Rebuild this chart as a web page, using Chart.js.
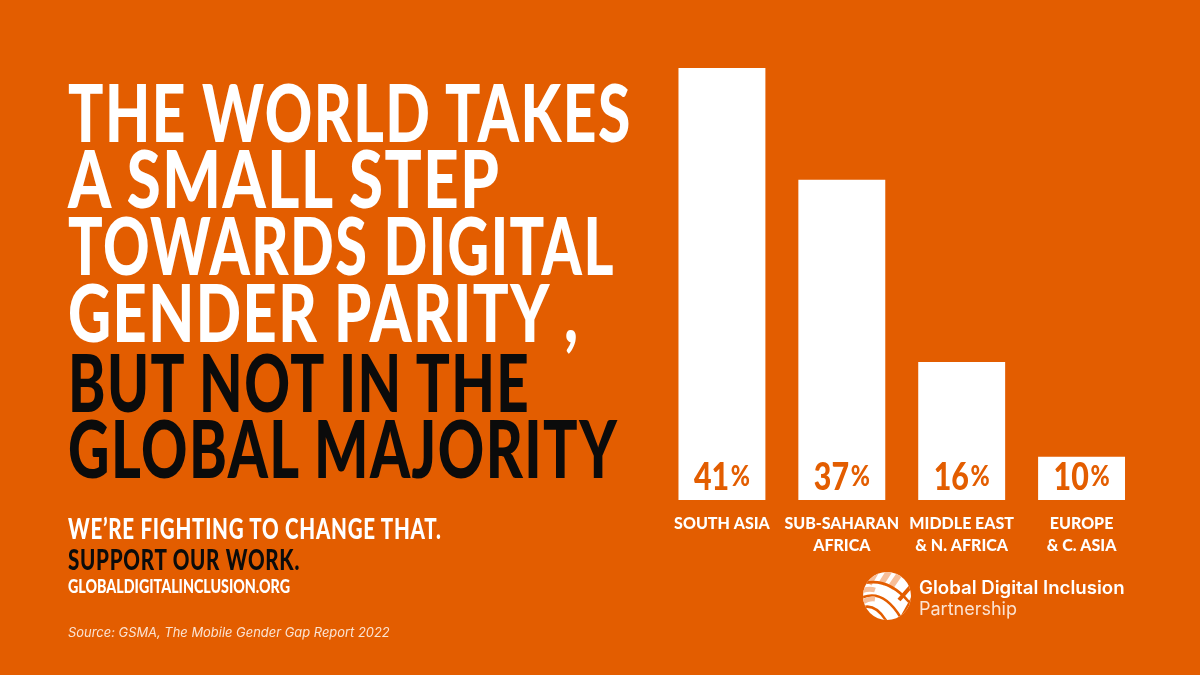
<!DOCTYPE html>
<html><head><meta charset="utf-8">
<script src="https://cdn.jsdelivr.net/npm/chart.js@4/dist/chart.umd.min.js"></script>
<style>
html,body{margin:0;padding:0;background:#E35D00;width:1200px;height:675px;overflow:hidden}
#c{position:absolute;left:0;top:0}
.t{position:absolute;white-space:nowrap;font-family:Lato,sans-serif;font-weight:900;transform-origin:0 0;color:#fff}
.k{color:#0b0b0b}
.h{font-size:80px;line-height:80px;letter-spacing:2px}
</style></head><body>
<canvas id="c" width="1200" height="675"></canvas>
<div class="t h" data-w="564" style="left:68px;top:71px">THE WORLD TAKES</div>
<div class="t h" data-w="432" style="left:68px;top:137px">A SMALL STEP</div>
<div class="t h" data-w="547" style="left:68px;top:204px">TOWARDS DIGITAL</div>
<div class="t h" data-w="512" style="left:68px;top:271px">GENDER PARITY ,</div>
<div class="t h k" data-w="462" style="left:68px;top:341px">BUT NOT IN THE</div>
<div class="t h k" data-w="550" style="left:68px;top:407px">GLOBAL MAJORITY</div>
<div class="t" data-w="374" style="left:68px;top:513px;font-size:28px;line-height:30px;letter-spacing:1px">WE’RE FIGHTING TO CHANGE THAT.</div>
<div class="t k" data-w="232" style="left:68px;top:544px;font-size:28px;line-height:30px;letter-spacing:1px">SUPPORT OUR WORK.</div>
<div class="t" data-w="222" style="left:68px;top:574px;font-size:19px;line-height:24px">GLOBALDIGITALINCLUSION.ORG</div>
<div class="t" data-w="322" style="left:68px;top:624px;font-family:Inter,sans-serif;font-weight:400;font-style:italic;font-size:13px;line-height:16px;color:#FBE3D2">Source: GSMA, The Mobile Gender Gap Report 2022</div>
<svg style="position:absolute;left:863px;top:572px" width="48" height="48" viewBox="0 0 48 48">
<defs><clipPath id="g"><circle cx="24" cy="24" r="24"/></clipPath></defs>
<g clip-path="url(#g)"><rect width="48" height="48" fill="#fff"/>
<path d="M14 -2 L6 12 M27 -2 L18 12 M38 0 L27 16" stroke="#F7BE98" stroke-width="6" fill="none"/>
<path d="M-2 12 Q24 4 46 30" stroke="#E35D00" stroke-width="2.5" fill="none"/>
<path d="M-2 26 Q20 16 38 46" stroke="#E35D00" stroke-width="2.5" fill="none"/>
<path d="M-2 36 Q12 30 24 50" stroke="#E35D00" stroke-width="2.5" fill="none"/>
<path d="M-2 19 Q6 16 12 18 M-2 31 Q6 26 12 27" stroke="#F7BE98" stroke-width="5" fill="none"/>
<path d="M50 12 L36 28 M50 26 L40 44" stroke="#E35D00" stroke-width="4" fill="none"/>
</g></svg>
<div class="t" data-w="206" style="left:919px;top:578px;font-family:Inter,sans-serif;font-weight:600;font-size:18px;line-height:20px">Global Digital Inclusion</div>
<div class="t" data-w="98" style="left:919px;top:599px;font-family:Inter,sans-serif;font-weight:400;font-size:18px;line-height:20px;color:#FBE3D2">Partnership</div>
<script>
document.querySelectorAll("[data-w]").forEach(e=>{e.style.transform="scaleX("+(+e.dataset.w/e.offsetWidth)+")"});
const categories=[["SOUTH ASIA"],["SUB-SAHARAN","AFRICA"],["MIDDLE EAST","& N. AFRICA"],["EUROPE","& C. ASIA"]];
const printedShares=[41,37,16,10];
const barLengths=[41,30.4,13.1,4.1];
const ORANGE="#E35D00";
const FONT='Lato,sans-serif';
const innerLabels={id:"innerLabels",afterDatasetsDraw(ch){
  const ctx=ch.ctx,bars=ch.getDatasetMeta(0).data,base=ch.scales.y.getPixelForValue(0);
  bars.forEach((b,i)=>{
    ctx.save();ctx.translate(b.x,base-10);ctx.scale(.8,1);
    ctx.fillStyle=ORANGE;ctx.textBaseline="alphabetic";
    const n=String(printedShares[i]);
    ctx.font='900 38px '+FONT;const w1=ctx.measureText(n).width;
    const f2='900 29px '+FONT;ctx.font=f2;const w2=ctx.measureText("%").width;
    const x0=-(w1+w2+2)/2;
    ctx.textAlign="left";
    ctx.font='900 38px '+FONT;ctx.fillText(n,x0,0);
    ctx.font=f2;ctx.fillText("%",x0+w1+2,-4);
    ctx.restore();
  });
}};
new Chart(document.getElementById("c"),{
  type:"bar",
  data:{labels:categories,datasets:[{data:barLengths,backgroundColor:"#fff",borderWidth:0,barPercentage:.725,categoryPercentage:1}]},
  plugins:[innerLabels],
  options:{responsive:false,animation:false,
    layout:{padding:{left:662,right:58.5,top:68,bottom:113}},
    plugins:{legend:{display:false},tooltip:{enabled:false},title:{display:false}},
    scales:{
      x:{grid:{display:false},border:{display:false},
         ticks:{color:"#fff",font:{family:FONT,weight:"900",size:16,lineHeight:1.375},padding:5,maxRotation:0,minRotation:0,autoSkip:false}},
      y:{display:false,min:0,max:41,afterFit(s){s.width=0}}
    }
  }
});
</script>
</body></html>
